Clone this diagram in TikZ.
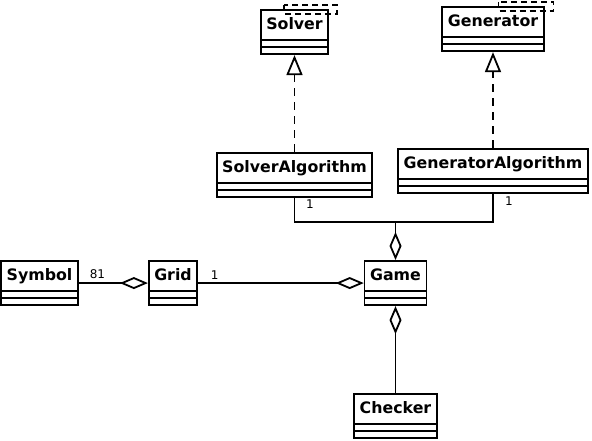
\documentclass[tikz,border=0pt]{standalone}
\usepackage{fontspec}
\setmainfont{DejaVu Sans}
\usepackage{tikz}
\usetikzlibrary{shapes.multipart,arrows.meta}

\newcommand{\clsname}[1]{\vrule width0pt height19pt depth9pt\relax\textbf{#1}}

\begin{document}
\begin{tikzpicture}[x=1pt,y=-1pt,line width=1.8pt,
  cls/.style={draw,rectangle split,rectangle split parts=3,
    rectangle split empty part height=5pt,rectangle split empty part depth=0pt,
    inner xsep=5.5pt,inner ysep=0pt,anchor=north,font=\fontsize{15.8}{18}\selectfont},
  tmpl/.style={draw,line width=1.6pt,dash pattern=on 6pt off 4pt},
  mult/.style={font=\fontsize{12}{14}\selectfont,inner sep=1pt},
  real/.style={dash pattern=on 8pt off 6pt,-{Triangle[open,length=20pt,width=16pt]}},
  aggr/.style={-{Diamond[open,length=28pt,width=12pt]}}]

\useasboundingbox (0,0) rectangle (592,441);

% interfaces
\node[cls] (solver) at (294.5,9) {\clsname{Solver}};
\node[cls] (generator) at (493,6) {\clsname{Generator}};
\draw[tmpl] ([xshift=-45pt,yshift=4pt]solver.north east) rectangle ([xshift=8pt,yshift=-5pt]solver.north east);
\draw[tmpl] ([xshift=-46pt,yshift=4pt]generator.north east) rectangle ([xshift=9pt,yshift=-5pt]generator.north east);

% algorithms
\node[cls] (salg) at (294.5,152) {\clsname{SolverAlgorithm}};
\node[cls] (galg) at (493,148) {\clsname{GeneratorAlgorithm}};
\draw[real] (salg) -- (solver);
\draw[real] (galg) -- (generator);

% model
\node[cls] (symbol) at (39.5,260) {\clsname{Symbol}};
\node[cls] (grid) at (173,260) {\clsname{Grid}};
\node[cls] (game) at (395.5,260) {\clsname{Game}};
\node[cls] (checker) at (395.5,393) {\clsname{Checker}};

\coordinate (join) at (395.5,222);
\draw (salg.south) |- (join);
\draw (galg.south) |- (join);
\draw[aggr] (join) -- (game.north);
\node[mult] (m1) at (310,204) {1};
\node[mult] (m2) at (509,201) {1};

\draw[aggr] (symbol) -- node[mult,above=2pt,pos=0.27] (m81) {81} (grid);
\draw[aggr] (grid) -- node[mult,above=2pt,pos=0.1] (m3) {1} (game);
\draw[aggr] (checker) -- (game);

\end{tikzpicture}
\end{document}
